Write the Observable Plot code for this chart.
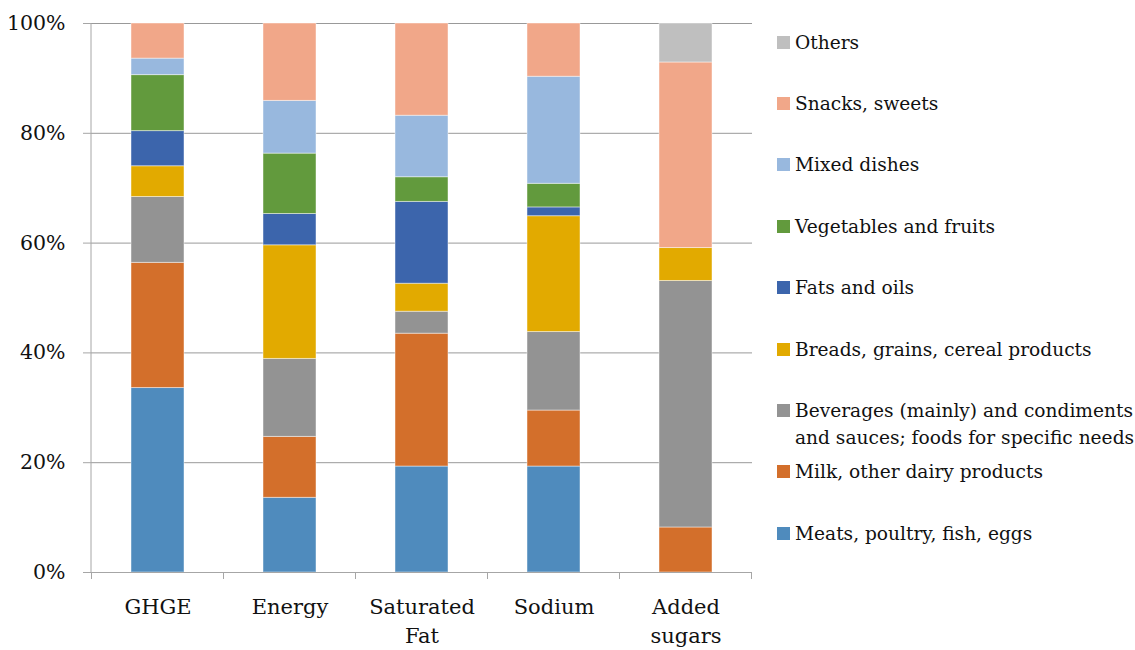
<!DOCTYPE html>
<html>
<head>
<meta charset="utf-8">
<script src="https://cdn.jsdelivr.net/npm/d3@7"></script>
<script src="https://cdn.jsdelivr.net/npm/@observablehq/plot@0.6"></script>
<style>
  body { margin: 0; background: #fff; }
  #wrap { position: relative; width: 1135px; height: 650px; font-family: "DejaVu Serif", serif; color: #111; }
  #chart { position: absolute; left: 0; top: 0; }
  .item { position: absolute; left: 777px; display: flex; align-items: flex-start; font-size: 18.6px; line-height: 27px; white-space: nowrap; }
  .sw { width: 13px; height: 13px; margin-top: 7px; margin-right: 5px; flex: none; }
</style>
</head>
<body>
<div id="wrap"><div id="chart"></div><div id="legend"></div></div>
<script>
const categories = ["GHGE", "Energy", "Saturated\nFat", "Sodium", "Added\nsugars"];
const groups = [
  "Meats, poultry, fish, eggs",
  "Milk, other dairy products",
  "Beverages (mainly) and condiments and sauces; foods for specific needs",
  "Breads, grains, cereal products",
  "Fats and oils",
  "Vegetables and fruits",
  "Mixed dishes",
  "Snacks, sweets",
  "Others"
];
const legendLines = [
  ["Meats, poultry, fish, eggs"],
  ["Milk, other dairy products"],
  ["Beverages (mainly) and condiments", "and sauces; foods for specific needs"],
  ["Breads, grains, cereal products"],
  ["Fats and oils"],
  ["Vegetables and fruits"],
  ["Mixed dishes"],
  ["Snacks, sweets"],
  ["Others"]
];
const colors = ["#4f8bbd", "#d36f2b", "#939393", "#e2aa00", "#3c65ac", "#629a3d", "#98b8de", "#f1a789", "#bfbfbf"];

// percent share per category (GHGE, Energy, Saturated Fat, Sodium, Added sugars)
const meats      = [33.6, 13.6, 19.3, 19.3, 0];
const milk       = [22.8, 11.1, 24.2, 10.2, 8.2];
const beverages  = [12.0, 14.2, 4.0, 14.3, 44.9];
const breads     = [5.6, 20.7, 5.1, 21.1, 6.0];
const fats       = [6.4, 5.7, 14.9, 1.6, 0];
const vegFruits  = [10.2, 11.0, 4.5, 4.3, 0];
const mixed      = [3.0, 9.6, 11.2, 19.5, 0];
const snacks     = [6.4, 14.1, 16.8, 9.7, 33.8];
const others     = [0, 0, 0, 0, 7.1];
const yTicks = [0, 20, 40, 60, 80, 100];

const series = [meats, milk, beverages, breads, fats, vegFruits, mixed, snacks, others];
const table = [];
series.forEach((vals, gi) => vals.forEach((v, ci) => table.push({cat: categories[ci], group: groups[gi], value: v})));

const chart = Plot.plot({
  width: 760,
  height: 650,
  marginLeft: 91,
  marginRight: 8,
  marginTop: 23,
  marginBottom: 78,
  style: {fontFamily: '"DejaVu Serif", serif', fontSize: "20px", color: "#111", background: "transparent", overflow: "visible"},
  x: {domain: categories, paddingInner: 0.6, paddingOuter: 0.3, label: null},
  y: {domain: [0, 100], label: null},
  color: {domain: groups, range: colors},
  marks: [
    Plot.gridY(yTicks, {stroke: "#999", strokeOpacity: 1}),
    Plot.barY(table, {x: "cat", y: "value", fill: "group", order: groups, stroke: "#fff", strokeWidth: 1, strokeOpacity: 0.45}),
    Plot.ruleY([0], {stroke: "#a6a6a6"}),
    Plot.axisY(yTicks, {tickSize: 8, tickPadding: 18, tickFormat: d => d + "%", stroke: "#a6a6a6", fontSize: 20.5, label: null}),
    Plot.axisX({tickSize: 0, tickPadding: 20, fontSize: 21, lineHeight: 1.42, label: null})
  ]
});
document.getElementById("chart").appendChild(chart);

// category separator ticks and left axis line, from the plot's own scales
const xs = chart.scale("x");
const ys = chart.scale("y");
const svg = d3.select(chart.tagName.toLowerCase() === "svg" ? chart : chart.querySelector("svg"));
const y0 = ys.apply(0), y100 = ys.apply(100);
const g = svg.append("g").attr("stroke", "#a6a6a6").attr("stroke-width", 1);
const bounds = categories.map(c => xs.apply(c) + xs.bandwidth / 2 - xs.step / 2);
bounds.push(xs.apply(categories[categories.length - 1]) + xs.bandwidth / 2 + xs.step / 2);
bounds.forEach(b => g.append("line").attr("x1", b).attr("x2", b).attr("y1", y0).attr("y2", y0 + 7));
g.append("line").attr("x1", xs.range[0]).attr("x2", xs.range[0]).attr("y1", y100).attr("y2", y0);

// legend (top entry first)
const legend = document.getElementById("legend");
const order = groups.map((_, i) => i).reverse();
order.forEach((gi, k) => {
  const item = document.createElement("div");
  item.className = "item";
  item.style.top = (42 - 13.5 + k * 61.4) + "px";
  const sw = document.createElement("div");
  sw.className = "sw";
  sw.style.background = colors[gi];
  const tx = document.createElement("div");
  tx.innerHTML = legendLines[gi].join("<br>");
  item.appendChild(sw);
  item.appendChild(tx);
  legend.appendChild(item);
});
</script>
</body>
</html>
